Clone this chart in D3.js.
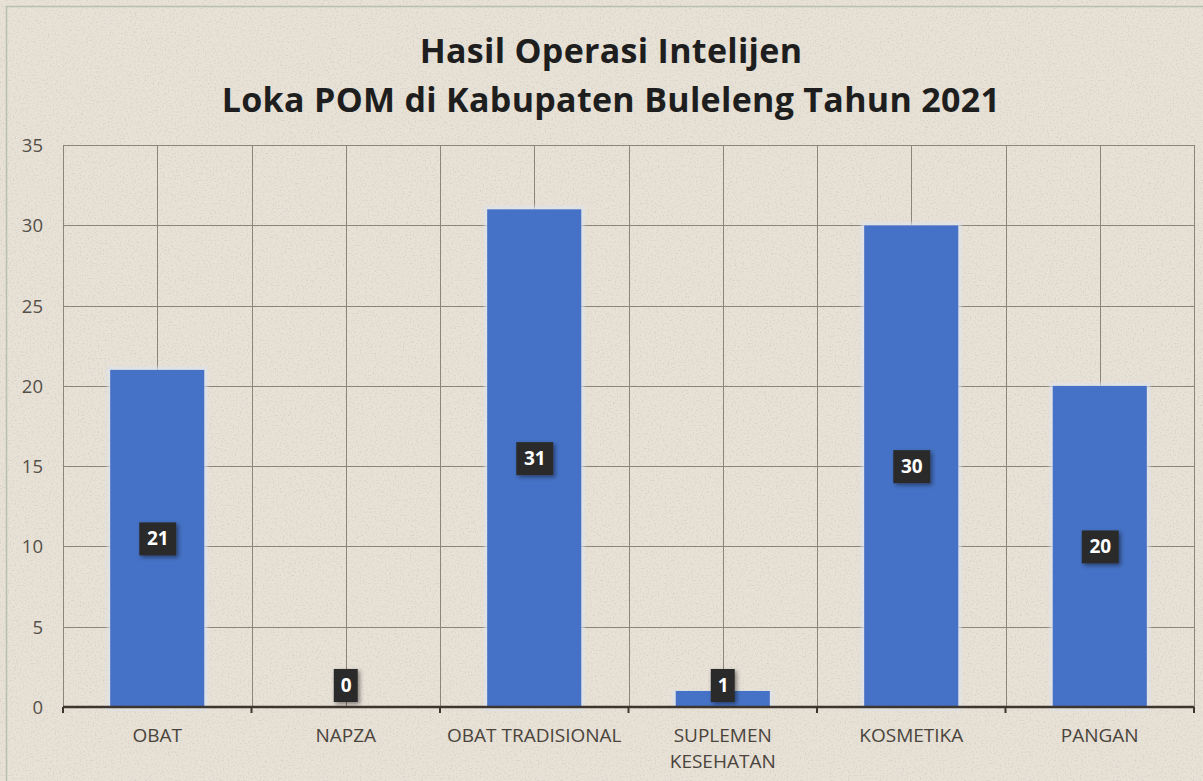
<!DOCTYPE html>
<html>
<head>
<meta charset="utf-8">
<script src="https://cdn.jsdelivr.net/npm/d3@7"></script>
<style>
  html, body { margin: 0; padding: 0; background: #ffffff; }
  svg { display: block; }
</style>
</head>
<body>
<svg id="chart" width="1203" height="781"></svg>
<script>
// data
var categories = ['OBAT', 'NAPZA', 'OBAT TRADISIONAL', 'SUPLEMEN KESEHATAN', 'KOSMETIKA', 'PANGAN'];
var values = [21, 0, 31, 1, 30, 20];
var yTicks = [0, 5, 10, 15, 20, 25, 30, 35];
var titleLines = ['Hasil Operasi Intelijen', 'Loka POM di Kabupaten Buleleng Tahun 2021'];

var W = 1203, H = 781;
var margin = {top: 145, right: 9, bottom: 74, left: 63};
var svg = d3.select('#chart');

// paper texture
var defs = svg.append('defs');
var f = defs.append('filter').attr('id', 'paper').attr('x', 0).attr('y', 0).attr('width', '100%').attr('height', '100%');
f.append('feTurbulence').attr('type', 'fractalNoise').attr('baseFrequency', 0.6).attr('numOctaves', 2).attr('seed', 7).attr('result', 'noise');
f.append('feColorMatrix').attr('in', 'noise').attr('type', 'matrix')
	.attr('values', '0 0 0 0 0.55  0 0 0 0 0.52  0 0 0 0 0.47  0 0 0 -2.4 1.2').attr('result', 'dots');
f.append('feComponentTransfer').attr('in', 'dots').attr('result', 'soft')
	.append('feFuncA').attr('type', 'linear').attr('slope', 0.6);
f.append('feComposite').attr('in', 'soft').attr('in2', 'SourceGraphic').attr('operator', 'over');

var shadow = defs.append('filter').attr('id', 'shadow').attr('x', '-30%').attr('y', '-30%').attr('width', '160%').attr('height', '160%');
shadow.append('feDropShadow').attr('dx', 2).attr('dy', 2).attr('stdDeviation', 2).attr('flood-color', '#000').attr('flood-opacity', 0.45);

var glow = defs.append('filter').attr('id', 'glow').attr('x', '-10%').attr('y', '-5%').attr('width', '120%').attr('height', '110%');
glow.append('feMorphology').attr('in', 'SourceAlpha').attr('operator', 'dilate').attr('radius', 3).attr('result', 'd');
glow.append('feGaussianBlur').attr('in', 'd').attr('stdDeviation', 1.5).attr('result', 'b');
glow.append('feFlood').attr('flood-color', '#dce4f0').attr('flood-opacity', 0.7);
glow.append('feComposite').attr('in2', 'b').attr('operator', 'in').attr('result', 'g');
var gm = glow.append('feMerge');
gm.append('feMergeNode').attr('in', 'g');
gm.append('feMergeNode').attr('in', 'SourceGraphic');

svg.append('rect').attr('width', W).attr('height', H).attr('fill', '#e7e1d6').attr('filter', 'url(#paper)');
svg.append('rect').attr('x', 6.5).attr('y', 6.5).attr('width', W).attr('height', H)
	.attr('fill', 'none').attr('stroke', '#b8c0ae').attr('stroke-width', 1.5);

var x = d3.scaleBand().domain(categories).range([margin.left, W - margin.right]).padding(0.5).paddingOuter(0.25);
var y = d3.scaleLinear().domain([0, 35]).range([H - margin.bottom, margin.top]);
var step = x.step();
var x0 = margin.left;

// title
svg.append('g').selectAll('text').data(titleLines).join('text')
	.attr('x', 611).attr('y', function(d, i) { return 63 + i * 49; })
	.attr('text-anchor', 'middle')
	.attr('font-family', 'Open Sans, sans-serif').attr('font-weight', 700)
	.attr('font-size', 34).attr('letter-spacing', 0.3).attr('fill', '#1e1e1e')
	.text(function(d) { return d; });

// gridlines
var grid = svg.append('g').attr('stroke', '#8c857a').attr('stroke-width', 1);
grid.selectAll('line.h').data(yTicks.slice(1)).join('line').attr('class', 'h')
	.attr('x1', x0).attr('x2', W - margin.right)
	.attr('y1', function(d) { return Math.round(y(d)) + 0.5; }).attr('y2', function(d) { return Math.round(y(d)) + 0.5; });
var vlines = d3.range(0, categories.length * 2 + 1);
grid.selectAll('line.v').data(vlines).join('line').attr('class', 'v')
	.attr('x1', function(d) { return Math.round(x0 + d * step / 2) + 0.5; })
	.attr('x2', function(d) { return Math.round(x0 + d * step / 2) + 0.5; })
	.attr('y1', y(35)).attr('y2', y(0));

// y axis labels
svg.append('g').selectAll('text').data(yTicks).join('text')
	.attr('x', 43).attr('y', function(d) { return y(d) + 7; })
	.attr('text-anchor', 'end')
	.attr('font-family', 'Open Sans, sans-serif').attr('font-size', 18.5).attr('fill', '#555049')
	.text(function(d) { return d; });

// bars
svg.append('g').selectAll('rect').data(values).join('rect')
	.attr('x', function(d, i) { return x(categories[i]); })
	.attr('y', function(d) { return y(d); })
	.attr('width', x.bandwidth())
	.attr('height', function(d) { return y(0) - y(d); })
	.attr('fill', '#4472c6')
	.attr('filter', 'url(#glow)');

// x axis
var ax = svg.append('g').attr('stroke', '#3d362e');
ax.append('line').attr('x1', x0).attr('x2', W - margin.right).attr('y1', y(0)).attr('y2', y(0)).attr('stroke-width', 2.5);
ax.selectAll('line.t').data(d3.range(0, categories.length + 1)).join('line').attr('class', 't')
	.attr('x1', function(d) { return x0 + d * step; }).attr('x2', function(d) { return x0 + d * step; })
	.attr('y1', y(0)).attr('y2', y(0) + 6).attr('stroke-width', 2);

// category labels (wrapped)
var cat = svg.append('g').selectAll('text').data(categories).join('text')
	.attr('text-anchor', 'middle')
	.attr('font-family', 'Open Sans, sans-serif').attr('font-size', 19).attr('fill', '#4a443c');
cat.each(function(d) {
	var t = d3.select(this);
	var cx = x(d) + x.bandwidth() / 2;
	var lines = [d];
	if (d.length > 17) { lines = d.split(' '); }
	lines.forEach(function(l, i) {
		t.append('tspan').attr('x', cx).attr('y', 742 + i * 26).text(l);
	});
});

// data labels
var lab = svg.append('g').selectAll('g').data(values).join('g')
	.attr('transform', function(d, i) {
		var cx = x(categories[i]) + x.bandwidth() / 2;
		var cy = Math.min(y(d / 2), y(0) - 22);
		return 'translate(' + cx + ',' + cy + ')';
	});
lab.append('rect')
	.attr('x', function(d) { return String(d).length > 1 ? -18 : -12; })
	.attr('width', function(d) { return String(d).length > 1 ? 37 : 24; })
	.attr('y', -16).attr('height', 33)
	.attr('fill', '#2c2c2c').attr('filter', 'url(#shadow)');
lab.append('text').attr('text-anchor', 'middle').attr('x', 0.5).attr('y', 7)
	.attr('font-family', 'Open Sans, sans-serif').attr('font-weight', 700).attr('font-size', 19).attr('fill', '#ffffff')
	.text(function(d) { return d; });
</script>
</body>
</html>
